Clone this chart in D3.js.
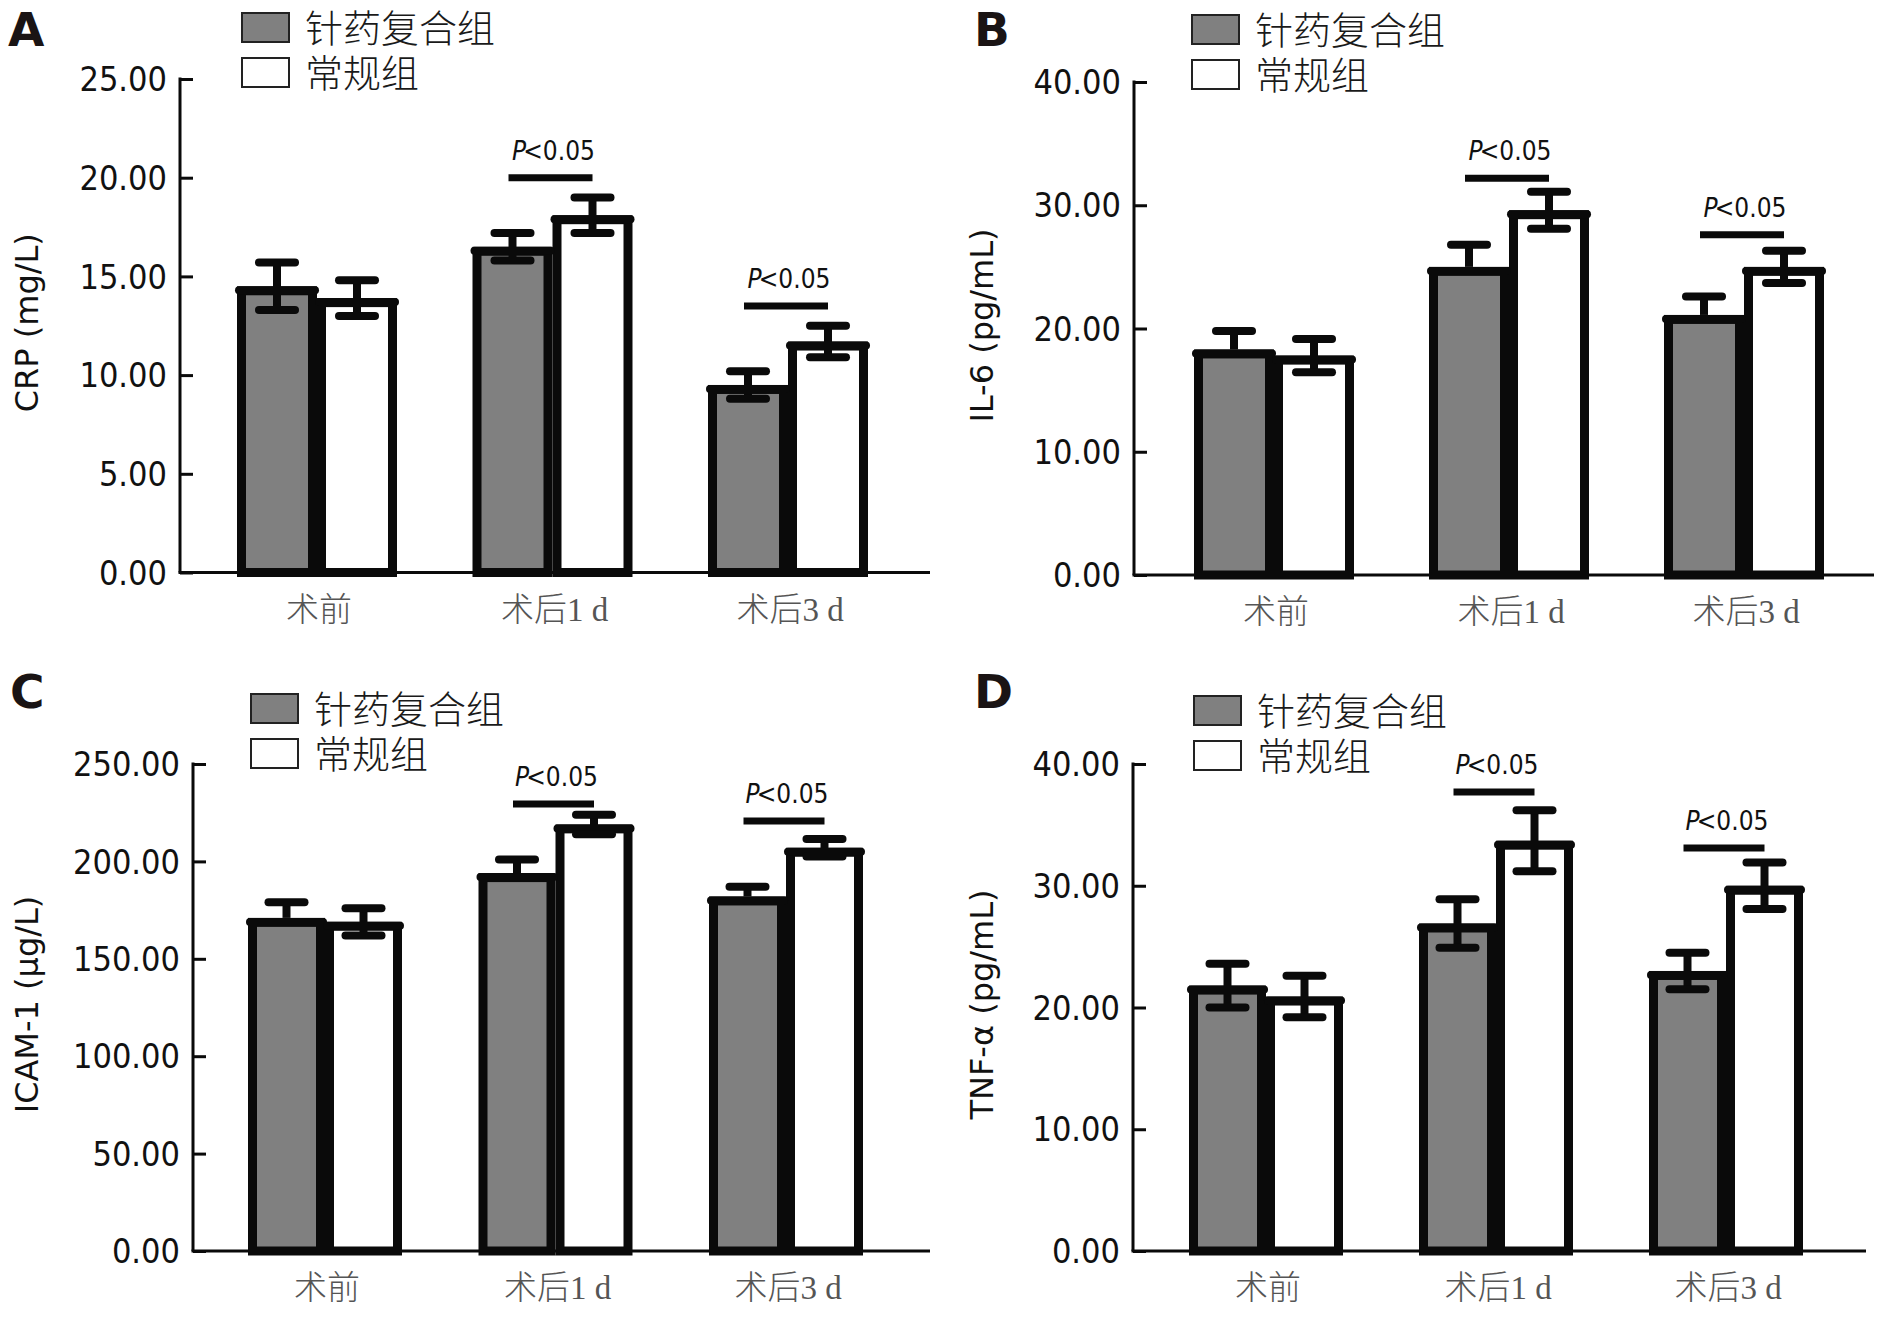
<!DOCTYPE html>
<html>
<head>
<meta charset="utf-8">
<script src="https://cdn.jsdelivr.net/npm/d3@7"></script>
<style>
  html, body { margin: 0; padding: 0; background: #fff; }
  svg { display: block; }
  .tick-label { font-family: "DejaVu Sans Condensed", "DejaVu Sans", sans-serif; font-stretch: condensed; }
</style>
</head>
<body>
<svg id="chart" width="1890" height="1317"></svg>
<script>
// ---------------- DATA ----------------
const categories = ["术前", "术后1 d", "术后3 d"];
const seriesNames = ["针药复合组", "常规组"];

const crpComb   = [14.5, 16.5, 9.5];
const crpCombSD = [1.2, 0.7, 0.7];
const crpConv   = [13.9, 18.1, 11.7];
const crpConvSD = [0.9, 0.9, 0.8];
const crpSig    = [null, 20.0, 13.5];
const crpTicks  = [0, 5, 10, 15, 20, 25];

const il6Comb   = [18.3, 25.0, 21.1];
const il6CombSD = [1.5, 1.8, 1.5];
const il6Conv   = [17.8, 29.6, 25.0];
const il6ConvSD = [1.35, 1.5, 1.3];
const il6Sig    = [null, 32.2, 27.6];
const il6Ticks  = [0, 10, 20, 30, 40];

const icamComb   = [171, 194, 182];
const icamCombSD = [8, 7, 5];
const icamConv   = [169, 219, 207];
const icamConvSD = [7, 5, 4.5];
const icamSig    = [null, 229.5, 220.7];
const icamTicks  = [0, 50, 100, 150, 200, 250];

const tnfComb   = [21.8, 26.9, 23.0];
const tnfCombSD = [1.8, 2.0, 1.5];
const tnfConv   = [20.9, 33.7, 30.0];
const tnfConvSD = [1.7, 2.5, 1.9];
const tnfSig    = [null, 37.7, 33.1];
const tnfTicks  = [0, 10, 20, 30, 40];

const sigLabel = "0.05";

// ---------------- LAYOUT ----------------
const panels = [
  { letter: "A", title: "CRP (mg/L)", comb: crpComb, combSD: crpCombSD, conv: crpConv, convSD: crpConvSD, sig: crpSig, ticks: crpTicks,
    x0: 180, xEnd: 930, yTop: 79, yBot: 572.5, offs: [137, 608], barW: 80, lowerComb: true,
    letterX: 8, letterY: 46, titleX: 38, legX: 241, legY: 12 },
  { letter: "B", title: "IL-6 (pg/mL)", comb: il6Comb, combSD: il6CombSD, conv: il6Conv, convSD: il6ConvSD, sig: il6Sig, ticks: il6Ticks,
    x0: 1134, xEnd: 1874, yTop: 82, yBot: 575, offs: [140, 610], barW: 80, lowerComb: false,
    letterX: 974, letterY: 46, titleX: 993, legX: 1191, legY: 14 },
  { letter: "C", title: "ICAM-1 (μg/L)", comb: icamComb, combSD: icamCombSD, conv: icamConv, convSD: icamConvSD, sig: icamSig, ticks: icamTicks,
    x0: 193, xEnd: 930, yTop: 764, yBot: 1251, offs: [132, 593], barW: 77, lowerComb: false,
    letterX: 10, letterY: 708, titleX: 38, legX: 250, legY: 693 },
  { letter: "D", title: "TNF-α (pg/mL)", comb: tnfComb, combSD: tnfCombSD, conv: tnfConv, convSD: tnfConvSD, sig: tnfSig, ticks: tnfTicks,
    x0: 1133, xEnd: 1866, yTop: 764, yBot: 1251, offs: [133, 593], barW: 77, lowerComb: true,
    letterX: 974, letterY: 708, titleX: 993, legX: 1193, legY: 695 }
];

const BLACK = "#0a0a0a";
const GREY = "#808080";
const svg = d3.select("#chart");
const fmt = d3.format(".2f");

panels.forEach(p => {
  const g = svg.append("g");
  const ymax = p.ticks[p.ticks.length - 1];
  const y = d3.scaleLinear().domain([0, ymax]).range([p.yBot, p.yTop]);
  const step = (p.offs[1] - p.offs[0]) / 2;
  const x = d3.scaleBand().domain(categories)
    .range([p.x0 + p.offs[0] - step / 2, p.x0 + p.offs[1] + step / 2]).padding(0);
  const center = c => x(c) + x.bandwidth() / 2;

  // Y axis (inward ticks)
  const yAxis = d3.axisRight(y).tickValues(p.ticks).tickSize(13).tickFormat(() => "");
  const ya = g.append("g").attr("transform", `translate(${p.x0},0)`).call(yAxis);
  ya.select(".domain").remove();
  ya.selectAll(".tick line").attr("stroke", BLACK).attr("stroke-width", 3);
  g.append("line").attr("x1", p.x0).attr("x2", p.x0).attr("y1", p.yTop - 1.5).attr("y2", p.yBot)
    .attr("stroke", BLACK).attr("stroke-width", 3);
  g.selectAll(".ylab").data(p.ticks).join("text")
    .attr("class", "tick-label")
    .attr("x", p.x0 - 13).attr("y", d => y(d))
    .attr("dy", "0.36em").attr("text-anchor", "end")
    .attr("font-size", 34).attr("fill", "#111")
    .text(d => fmt(d));

  // X axis line
  g.append("line").attr("x1", p.x0 - 1.5).attr("x2", p.xEnd).attr("y1", p.yBot).attr("y2", p.yBot)
    .attr("stroke", BLACK).attr("stroke-width", 3);

  // X labels
  g.selectAll(".xlab").data(categories).join("text")
    .attr("x", d => center(d) + 2).attr("y", p.yBot + 48)
    .attr("text-anchor", "middle")
    .attr("font-family", "'Liberation Serif', 'Noto Sans CJK SC', serif")
    .attr("font-weight", 300)
    .attr("font-size", 33).attr("fill", "#555")
    .text(d => d);

  // Bars
  const sw = 9;
  const bars = [];
  categories.forEach((c, i) => {
    bars.push({ c, i, v: p.comb[i], sd: p.combSD[i], fill: GREY, x: center(c) - p.barW, lower: p.lowerComb });
    bars.push({ c, i, v: p.conv[i], sd: p.convSD[i], fill: "#fff", x: center(c), lower: true });
  });
  g.selectAll(".bar").data(bars).join("rect")
    .attr("x", d => d.x + sw / 2).attr("y", d => y(d.v) + sw / 2)
    .attr("width", p.barW - sw).attr("height", d => y(0) - y(d.v) - sw / 2)
    .attr("fill", d => d.fill).attr("stroke", BLACK).attr("stroke-width", sw);
  g.selectAll(".meanline").data(bars).join("line")
    .attr("x1", d => d.x + 2).attr("x2", d => d.x + p.barW - 2)
    .attr("y1", d => y(d.v) + 4).attr("y2", d => y(d.v) + 4)
    .attr("stroke", BLACK).attr("stroke-width", 8).attr("stroke-linecap", "round");

  // Error bars
  const capHalf = 18;
  bars.forEach(d => {
    const cx = d.x + p.barW / 2;
    const yl = d.lower ? y(d.v - d.sd) : y(d.v);
    g.append("line").attr("x1", cx).attr("x2", cx).attr("y1", y(d.v + d.sd)).attr("y2", yl)
      .attr("stroke", BLACK).attr("stroke-width", 8);
    g.append("line").attr("x1", cx - capHalf).attr("x2", cx + capHalf)
      .attr("y1", y(d.v + d.sd)).attr("y2", y(d.v + d.sd))
      .attr("stroke", BLACK).attr("stroke-width", 8).attr("stroke-linecap", "round");
    if (d.lower) {
      g.append("line").attr("x1", cx - capHalf).attr("x2", cx + capHalf)
        .attr("y1", y(d.v - d.sd)).attr("y2", y(d.v - d.sd))
        .attr("stroke", BLACK).attr("stroke-width", 8).attr("stroke-linecap", "round");
    }
  });

  // Significance
  categories.forEach((c, i) => {
    const s = p.sig[i];
    if (s == null) return;
    const xa = center(c) - p.barW / 2 - 4, xb = center(c) + p.barW / 2;
    g.append("line").attr("x1", xa).attr("x2", xb).attr("y1", y(s)).attr("y2", y(s))
      .attr("stroke", BLACK).attr("stroke-width", 7);
    const t = g.append("text").attr("x", (xa + xb) / 2 + 3).attr("y", y(s) - 18)
      .attr("text-anchor", "middle").attr("class", "tick-label")
      .attr("font-size", 26).attr("fill", "#111");
    t.append("tspan").attr("font-style", "italic").text("P");
    t.append("tspan").attr("dx", -3).text("<" + sigLabel);
  });

  // Y title
  g.append("text")
    .attr("transform", `translate(${p.titleX},${(p.yTop + p.yBot) / 2 - 3}) rotate(-90)`)
    .attr("text-anchor", "middle")
    .attr("font-family", "'DejaVu Sans', Verdana, sans-serif")
    .attr("font-size", 32).attr("fill", "#111")
    .text(p.title);

  // Panel letter
  g.append("text").attr("x", p.letterX).attr("y", p.letterY)
    .attr("font-family", "'DejaVu Sans', sans-serif").attr("font-weight", "bold")
    .attr("font-size", 47).attr("fill", "#1a1414").text(p.letter);

  // Legend
  const legFills = [GREY, "#fff"];
  seriesNames.forEach((nm, k) => {
    const ly = p.legY + k * 45;
    g.append("rect").attr("x", p.legX + 1).attr("y", ly + 1).attr("width", 47).attr("height", 29)
      .attr("fill", legFills[k]).attr("stroke", "#222").attr("stroke-width", 2);
    g.append("text").attr("x", p.legX + 64).attr("y", ly + 16).attr("dy", "0.36em")
      .attr("font-family", "'Noto Sans CJK SC', sans-serif").attr("font-weight", 300)
      .attr("font-size", 38).attr("fill", "#1a1a1a").text(nm);
  });
});
</script>
</body>
</html>
